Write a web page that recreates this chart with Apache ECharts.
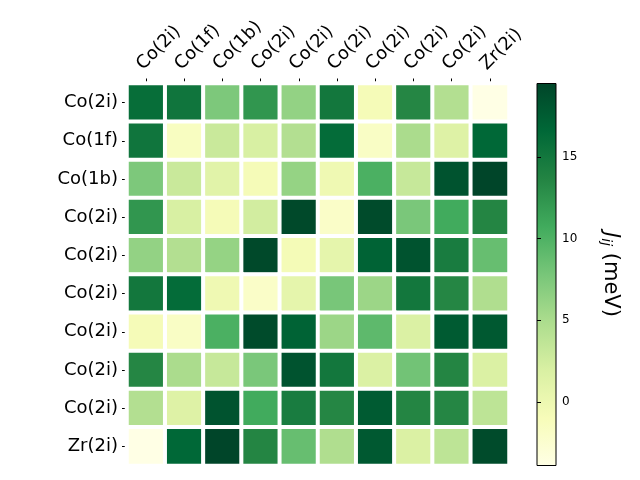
<!DOCTYPE html>
<html>
<head>
<meta charset="utf-8">
<script src="https://cdn.jsdelivr.net/npm/echarts@6/dist/echarts.min.js"></script>
<style>
  html, body { margin: 0; padding: 0; background: #fff; }
  #main { width: 640px; height: 480px; }
</style>
</head>
<body>
<div id="main"></div>
<script>
var labels = ['Co(2i)', 'Co(1f)', 'Co(1b)', 'Co(2i)', 'Co(2i)', 'Co(2i)', 'Co(2i)', 'Co(2i)', 'Co(2i)', 'Zr(2i)'];

// J_ij in meV, row by row
var row0 = [16.0, 15.2, 7.5, 12.3, 6.3, 15.0, -0.8, 13.5, 4.5, -3.9];
var row1 = [15.2, -1.5, 3.0, 2.0, 4.5, 16.2, -1.8, 5.0, 1.5, 16.6];
var row2 = [7.5, 3.0, 1.2, -0.8, 6.2, -0.2, 10.2, 3.2, 18.3, 19.5];
var row3 = [12.3, 2.0, -0.8, 2.4, 19.2, -2.0, 19.0, 7.7, 10.7, 13.6];
var row4 = [6.3, 4.5, 6.2, 19.2, -0.7, 0.8, 17.0, 18.3, 14.5, 8.7];
var row5 = [15.0, 16.2, -0.2, -2.0, 0.8, 7.8, 5.8, 15.0, 13.5, 4.7];
var row6 = [-0.8, -1.8, 10.2, 19.0, 17.0, 5.8, 9.2, 1.8, 17.7, 17.8];
var row7 = [13.5, 5.0, 3.2, 7.7, 18.3, 15.0, 1.8, 8.1, 13.6, 1.8];
var row8 = [4.5, 1.5, 18.3, 10.7, 14.5, 13.5, 17.7, 13.6, 13.5, 3.8];
var row9 = [-3.9, 16.6, 19.5, 13.6, 8.7, 4.7, 17.8, 1.8, 3.8, 19.0];
var rows = [row0, row1, row2, row3, row4, row5, row6, row7, row8, row9];

var cbMin = -3.9, cbMax = 19.5;
var cbTicks = [0, 5, 10, 15];

var ylgn = ['#ffffe5', '#f7fcb9', '#d9f0a3', '#addd8e', '#78c679', '#41ab5d', '#238443', '#006837', '#004529'];

var data = [];
rows.forEach(function (r, i) {
    r.forEach(function (v, j) {
        data.push([j, i, v]);
    });
});

var dom = document.getElementById('main');
var myChart = echarts.init(dom, null, { renderer: 'canvas' });

var stops = ylgn.map(function (c, k) {
    return { offset: 1 - k / (ylgn.length - 1), color: c };
});

option = {
    animation: false,
    backgroundColor: '#fff',
    textStyle: { fontFamily: 'DejaVu Sans' },
    grid: [
        { left: 127, top: 83.5, width: 382, height: 382 },
        {
            left: 537, top: 83.5, width: 19, height: 382,
            show: true,
            borderColor: '#000',
            borderWidth: 1,
            backgroundColor: new echarts.graphic.LinearGradient(0, 0, 0, 1, stops)
        }
    ],
    xAxis: [
        {
            type: 'category',
            gridIndex: 0,
            data: labels,
            position: 'top',
            axisLine: { show: false },
            axisTick: { show: true, alignWithLabel: true, length: 5, lineStyle: { color: '#000' } },
            axisLabel: { rotate: -45, fontSize: 18, color: '#000', margin: 10, interval: 0, verticalAlign: 'bottom' },
            splitLine: { show: false }
        },
        {
            type: 'value',
            gridIndex: 1,
            show: false
        }
    ],
    yAxis: [
        {
            type: 'category',
            gridIndex: 0,
            data: labels,
            inverse: true,
            axisLine: { show: false },
            axisTick: { show: true, alignWithLabel: true, length: 5, lineStyle: { color: '#000' } },
            axisLabel: { fontSize: 18, color: '#000', margin: 9, interval: 0 },
            splitLine: { show: false }
        },
        {
            type: 'value',
            gridIndex: 1,
            position: 'right',
            min: cbMin,
            max: cbMax,
            axisLine: { show: false },
            splitLine: { show: false },
            axisTick: { show: true, length: 4, customValues: cbTicks, lineStyle: { color: '#000' } },
            axisLabel: { fontSize: 12, color: '#000', margin: 6, customValues: cbTicks },
            name: '{j|J}{s|ij} (meV)',
            nameLocation: 'middle',
            nameRotate: -90,
            nameGap: 43,
            nameTextStyle: {
                fontSize: 21,
                color: '#000',
                rich: {
                    j: { fontSize: 21, fontStyle: 'italic', color: '#000' },
                    s: { fontSize: 14, fontStyle: 'italic', color: '#000', verticalAlign: 'bottom', padding: [9, 0, 0, 0] }
                }
            }
        }
    ],
    visualMap: {
        show: false,
        seriesIndex: 0,
        min: cbMin,
        max: cbMax,
        inRange: { color: ylgn }
    },
    series: [
        {
            type: 'heatmap',
            xAxisIndex: 0,
            yAxisIndex: 0,
            data: data,
            itemStyle: { borderColor: '#fff', borderWidth: 4 },
            emphasis: { disabled: true }
        }
    ]
};

if (option && typeof option === 'object') {
    myChart.setOption(option, true);
}
window.addEventListener('resize', function () {
    myChart.resize();
});
</script>
</body>
</html>
